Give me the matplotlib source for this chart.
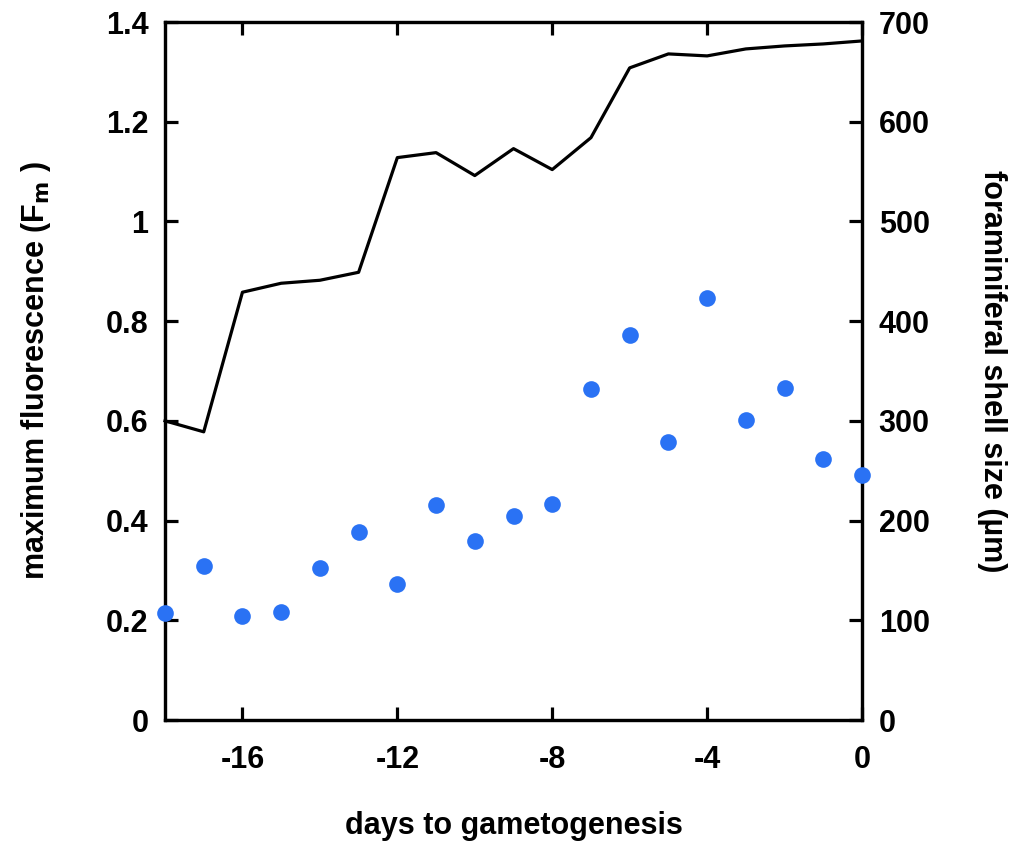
import matplotlib
matplotlib.use("Agg")
import matplotlib.pyplot as plt

days = [-18, -17, -16, -15, -14, -13, -12, -11, -10, -9, -8, -7, -6, -5, -4, -3, -2, -1, 0]
fluorescence = [0.215, 0.308, 0.209, 0.217, 0.305, 0.378, 0.273, 0.431, 0.359, 0.409, 0.433,
                0.663, 0.772, 0.558, 0.846, 0.601, 0.666, 0.523, 0.492]
shell_size = [300, 289, 429, 438, 441, 449, 564, 569, 546, 573, 552, 584, 654, 668, 666, 673, 676, 678, 681]

x_ticks = [-16, -12, -8, -4, 0]
left_ticks = [0, 0.2, 0.4, 0.6, 0.8, 1.0, 1.2, 1.4]
left_labels = ["0", "0.2", "0.4", "0.6", "0.8", "1", "1.2", "1.4"]
right_ticks = [0, 100, 200, 300, 400, 500, 600, 700]

plt.rcParams['font.family'] = ['Liberation Sans', 'DejaVu Sans']
plt.rcParams['font.weight'] = 'bold'
plt.rcParams['mathtext.default'] = 'regular'
plt.rcParams['axes.unicode_minus'] = False

fig = plt.figure(figsize=(10.11, 8.41), dpi=100)
ax = fig.add_axes([165/1011, 121/841, 697/1011, 698/841])
ax2 = ax.twinx()

ax.plot(days, fluorescence, 'o', color='#2a72f4', markersize=12, markeredgewidth=0, zorder=3, clip_on=False)
ax2.plot(days, shell_size, '-', color='black', linewidth=2.3, clip_on=False)

ax.set_xlim(-18, 0)
ax.set_ylim(0, 1.4)
ax2.set_ylim(0, 700)
ax.set_xticks(x_ticks)
ax.set_yticks(left_ticks)
ax.set_yticklabels(left_labels)
ax2.set_yticks(right_ticks)

for a in (ax, ax2):
    for s in a.spines.values():
        s.set_linewidth(2.3)
ax.tick_params(axis='x', direction='in', length=9.5, width=2.3, top=True, labelsize=22, pad=18)
ax.tick_params(axis='y', direction='in', length=9.5, width=2.3, labelsize=22, pad=12)
ax2.tick_params(axis='y', direction='in', length=9.5, width=2.3, labelsize=22, pad=12)
for lab in ax.get_xticklabels() + ax.get_yticklabels() + ax2.get_yticklabels():
    lab.set_fontweight('bold')

ax.set_xlabel('days to gametogenesis', fontsize=22, fontweight='bold', labelpad=26)
ax.set_ylabel(r'maximum fluorescence (F$_{\mathbf{m}}$ )', fontsize=22, fontweight='bold', labelpad=38)
ax2.set_ylabel('foraminiferal shell size (µm)', fontsize=22, fontweight='bold', rotation=270, labelpad=56)

ax.set_zorder(ax2.get_zorder() + 1)
ax.patch.set_visible(False)

fig.savefig('out.png', dpi=100)
